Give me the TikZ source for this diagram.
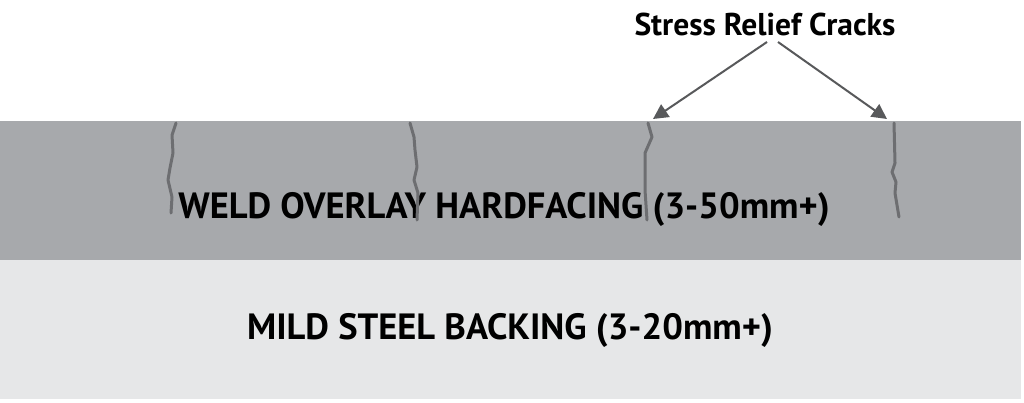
\documentclass[tikz,border=0pt]{standalone}
\usepackage{fontspec}
\setmainfont{PT Sans}
\usetikzlibrary{arrows.meta}
\definecolor{overlaygray}{HTML}{A7A9AC}
\definecolor{backinggray}{HTML}{E6E7E8}
\definecolor{crackgray}{HTML}{6D6E71}
\definecolor{pointergray}{HTML}{58595B}
\tikzset{
  layer text/.style={font=\bfseries\fontsize{36.5}{36.5}\selectfont, text=black},
  crack line/.style={crackgray, line width=3pt, line join=round, line cap=round},
  pointer arrow/.style={pointergray, line width=2pt, -{Triangle[length=15pt,width=15pt]}}
}

\begin{document}
\begin{tikzpicture}[x=1pt,y=-1pt]
  \useasboundingbox (0,0) rectangle (1024,402);
  % layers
  \fill[overlaygray] (0,121) rectangle (1021,260);
  \fill[backinggray] (0,260) rectangle (1021,399);
  \node[layer text] (weld) at (504,209) {WELD OVERLAY HARDFACING (3-50mm+)};
  \node[layer text] (backing) at (510,330) {MILD STEEL BACKING (3-20mm+)};
  % cracks
  \draw[crack line] (176,123) -- (172,135) -- (173,153) -- (170,168) -- (168,180) -- (172,197) -- (171,213);
  \draw[crack line] (410,123) -- (414,137) -- (415,150) -- (417,167) -- (414,180) -- (418,193) -- (417,220);
  \draw[crack line] (648,123) -- (652,137) -- (645,153) -- (645,190) -- (647,220);
  \draw[crack line] (894,123) -- (895,163) -- (892,172) -- (896,182) -- (895,193) -- (899,217);
  \coordinate (tip3) at (653,119);
  \coordinate (tip4) at (887,119);
  % label
  \node[font=\bfseries\fontsize{31.5}{31.5}\selectfont] (cracks) at (765,24) {Stress Relief Cracks};
  \draw[pointer arrow] ([xshift=2pt,yshift=-3pt]cracks.south) -- (tip3);
  \draw[pointer arrow] ([xshift=13pt,yshift=-3pt]cracks.south) -- (tip4);
\end{tikzpicture}
\end{document}
